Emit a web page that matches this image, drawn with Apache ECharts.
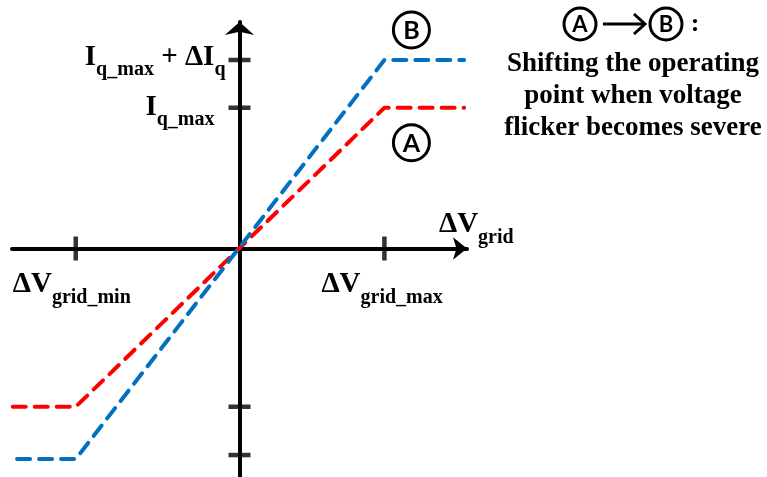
<!DOCTYPE html>
<html>
<head>
<meta charset="utf-8">
<script src="https://cdn.jsdelivr.net/npm/echarts@6/dist/echarts.min.js"></script>
<style>
  html, body { margin: 0; padding: 0; background: #ffffff; }
  #chart { width: 767px; height: 477px; }
</style>
</head>
<body>
<div id="chart"></div>
<script>
// Reactive current vs. grid voltage deviation characteristic.
// x is measured in units of ΔVgrid_max, y in units of Iq_max.
const xTickValues = [-1.13, 1];                 // ΔVgrid_min, ΔVgrid_max
const yTickValues = [1.339, 1, -1.124, -1.467]; // Iq_max + ΔIq, Iq_max, lower limits
const curveA = [[-1.565, -1.124], [-1.13, -1.124], [1, 1], [1.55, 1]];       // operating curve A
const curveB = [[-1.535, -1.495], [-1.13, -1.495], [1, 1.339], [1.55, 1.339]]; // operating curve B
const xRange = [-1.57, 1.57];
const yRange = [-1.623, 1.609];

const SERIF = '"Liberation Serif", "Times New Roman", serif';
const SANS = 'Lato, "Open Sans", "Liberation Sans", sans-serif';

const chart = echarts.init(document.getElementById('chart'), null, { renderer: 'canvas' });

const axisCommon = {
  type: 'value',
  axisLine: {
    show: true,
    onZero: true,
    symbol: ['none', 'arrow'],
    lineStyle: { color: '#000', width: 4 }
  },
  axisTick: { show: false },
  axisLabel: { show: false },
  splitLine: { show: false }
};

const dashed = (color) => ({
  color: color,
  width: 4,
  type: [13, 9],
  cap: 'round',
  join: 'round'
});

chart.setOption({
  animation: false,
  backgroundColor: '#ffffff',
  grid: { left: 12, right: 300, top: 22, bottom: 0, containLabel: false },
  xAxis: Object.assign({}, axisCommon, {
    min: xRange[0], max: xRange[1],
    axisLine: Object.assign({}, axisCommon.axisLine, { symbolSize: [17, 14] })
  }),
  yAxis: Object.assign({}, axisCommon, {
    min: yRange[0], max: yRange[1],
    axisLine: Object.assign({}, axisCommon.axisLine, { symbolSize: [22, 13] })
  }),
  series: [
    {
      name: 'A', type: 'line', data: curveA, showSymbol: false, symbol: 'none',
      lineStyle: dashed('#ff0000'), z: 3
    },
    {
      name: 'B', type: 'line', data: curveB, showSymbol: false, symbol: 'none',
      lineStyle: dashed('#0070c0'), z: 3
    },
    {
      // crossing tick marks on the vertical axis
      type: 'scatter', symbol: 'rect', symbolSize: [22, 4.5],
      itemStyle: { color: '#000' }, silent: true, z: 4,
      data: yTickValues.map(v => [0, v])
    },
    {
      // crossing tick marks on the horizontal axis
      type: 'scatter', symbol: 'rect', symbolSize: [4.5, 24],
      itemStyle: { color: '#000' }, silent: true, z: 4,
      data: xTickValues.map(v => [v, 0])
    }
  ]
});

const px = (x, y) => chart.convertToPixel({ gridIndex: 0 }, [x, y]);

// rich text styles: main symbol at the top of the line, subscript dropped to its bottom
const rich = {
  m: { fontFamily: SERIF, fontWeight: 'bold', fontSize: 29, lineHeight: 30, verticalAlign: 'top', fill: '#000' },
  s: { fontFamily: SERIF, fontWeight: 'bold', fontSize: 20, lineHeight: 37, verticalAlign: 'bottom', fill: '#000' }
};

function label(x, y, text, align) {
  return {
    type: 'text', x: x, y: y, z: 10,
    style: { text: text, rich: rich, align: align, verticalAlign: 'top', fill: '#000' }
  };
}

function circled(cx, cy, r, letter, size) {
  return [
    { type: 'circle', shape: { cx: cx, cy: cy, r: r }, z: 10,
      style: { fill: '#fff', stroke: '#000', lineWidth: 3 } },
    { type: 'text', x: cx, y: cy + 1, z: 11,
      style: { text: letter, fontFamily: SANS, fontWeight: 'bold', fontSize: size,
               fill: '#000', align: 'center', verticalAlign: 'middle' } }
  ];
}

const pYTop = px(0, yTickValues[0]);
const pYMax = px(0, yTickValues[1]);
const pXMin = px(xTickValues[0], 0);
const pXMax = px(xTickValues[1], 0);
const pXEnd = px(xRange[1], 0);
const cornerB = px(curveB[2][0], curveB[2][1]);
const cornerA = px(curveA[2][0], curveA[2][1]);

const graphics = [
  label(pYTop[0] - 14, pYTop[1] - 17, '{m|I}{s|q_max}{m| + ΔI}{s|q}', 'right'),
  label(pYMax[0] - 25, pYMax[1] - 15, '{m|I}{s|q_max}', 'right'),
  label(pXMin[0] - 63, pXMin[1] + 22, '{m|ΔV}{s|grid_min}', 'left'),
  label(pXMax[0] - 63, pXMax[1] + 22, '{m|ΔV}{s|grid_max}', 'left'),
  label(pXEnd[0] - 28, pXEnd[1] - 38, '{m|ΔV}{s|grid}', 'left')
];

graphics.push(...circled(cornerB[0] + 27, cornerB[1] - 30, 18, 'B', 25));
graphics.push(...circled(cornerA[0] + 27, cornerA[1] + 35, 18, 'A', 25));

// side note: A → B
const noteX = 633;
graphics.push(...circled(580, 24, 16, 'A', 22));
graphics.push(...circled(666, 24, 16, 'B', 22));
graphics.push({
  type: 'line', z: 10,
  shape: { x1: 603, y1: 24, x2: 644, y2: 24 },
  style: { stroke: '#000', lineWidth: 3 }
});
graphics.push({
  type: 'polyline', z: 10,
  shape: { points: [[634, 14], [645, 24], [634, 34]] },
  style: { stroke: '#000', lineWidth: 3, fill: null, lineJoin: 'miter' }
});
graphics.push({
  type: 'text', x: 695, y: 24, z: 10,
  style: { text: ':', fontFamily: SERIF, fontWeight: 'bold', fontSize: 26, fill: '#000',
           align: 'center', verticalAlign: 'middle' }
});
graphics.push({
  type: 'text', x: noteX, y: 48, z: 10,
  style: {
    text: 'Shifting the operating\npoint when voltage\nflicker becomes severe',
    fontFamily: SERIF, fontWeight: 'bold', fontSize: 27, lineHeight: 32,
    fill: '#000', align: 'center', verticalAlign: 'top'
  }
});

chart.setOption({ graphic: graphics });
</script>
</body>
</html>
